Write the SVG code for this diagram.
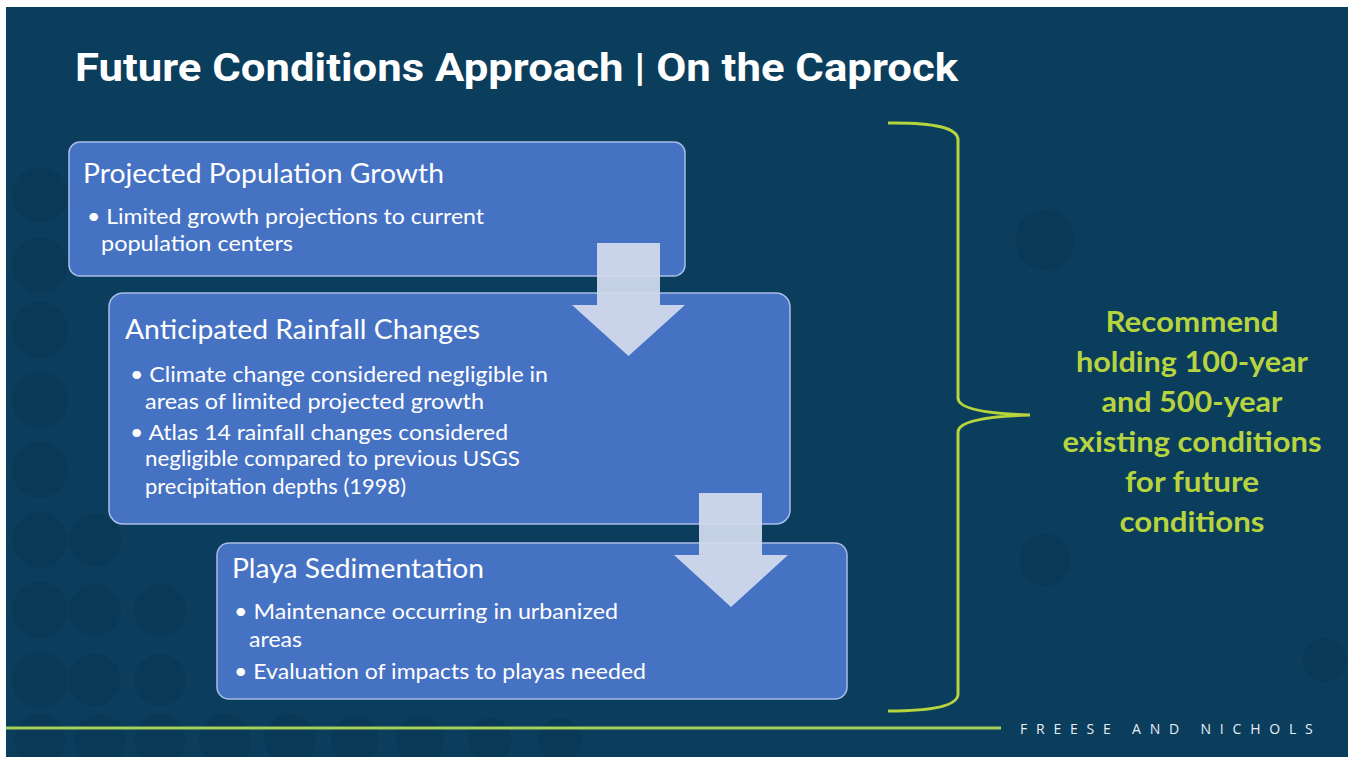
<svg xmlns="http://www.w3.org/2000/svg" width="1351" height="757" viewBox="0 0 1351 757">
<defs>
<style>
.box{fill:#4672c4;stroke:#a9bde6;stroke-width:1.5}
.h{font-family:Lato,"Open Sans",sans-serif;font-size:27px;fill:#ffffff}
.b{font-family:Lato,"Open Sans",sans-serif;font-size:22px;fill:#ffffff}
.g{font-family:Lato,"Open Sans",sans-serif;font-size:29px;font-weight:bold;fill:#b6d43e;text-anchor:middle}
.arr{fill:#d3dbee;opacity:0.93}
.dot{fill:#0a3350;opacity:0.35}
</style>
</defs>
<rect x="0" y="0" width="1351" height="757" fill="#ffffff"/>
<rect x="6" y="7" width="1342" height="750" fill="#0b3d5d"/>
<g id="bg-dots">
<circle class="dot" cx="40" cy="195" r="28"/>
<circle class="dot" cx="40" cy="265" r="28"/>
<circle class="dot" cx="40" cy="330" r="28"/>
<circle class="dot" cx="40" cy="400" r="28"/>
<circle class="dot" cx="40" cy="470" r="28"/>
<circle class="dot" cx="40" cy="540" r="28"/>
<circle class="dot" cx="40" cy="610" r="28"/>
<circle class="dot" cx="40" cy="680" r="28"/>
<circle class="dot" cx="95" cy="540" r="26"/>
<circle class="dot" cx="95" cy="610" r="26"/>
<circle class="dot" cx="95" cy="680" r="26"/>
<circle class="dot" cx="160" cy="610" r="26"/>
<circle class="dot" cx="160" cy="680" r="26"/>
<circle class="dot" cx="40" cy="740" r="26"/>
<circle class="dot" cx="100" cy="740" r="26"/>
<circle class="dot" cx="160" cy="740" r="26"/>
<circle class="dot" cx="225" cy="740" r="26"/>
<circle class="dot" cx="290" cy="740" r="26"/>
<circle class="dot" cx="355" cy="740" r="24"/>
<circle class="dot" cx="420" cy="740" r="24"/>
<circle class="dot" cx="490" cy="740" r="22"/>
<circle class="dot" cx="560" cy="740" r="22"/>
<circle class="dot" cx="1045" cy="240" r="30"/>
<circle class="dot" cx="1045" cy="560" r="26"/>
<circle class="dot" cx="1325" cy="660" r="22"/>
</g>
<text x="75" y="81" font-family="Roboto,'Liberation Sans',sans-serif" font-size="38" font-weight="bold" fill="#ffffff" textLength="883" lengthAdjust="spacingAndGlyphs">Future Conditions Approach | On the Caprock</text>
<g id="node-population">
<rect class="box" x="69" y="142" width="616" height="134" rx="11"/>
<text class="h" x="83" y="183" textLength="361" lengthAdjust="spacingAndGlyphs">Projected Population Growth</text>
<text class="b" x="87" y="224" textLength="397" lengthAdjust="spacingAndGlyphs">• Limited growth projections to current</text>
<text class="b" x="101" y="251" textLength="192" lengthAdjust="spacingAndGlyphs">population centers</text>
</g>
<g id="node-rainfall">
<rect class="box" x="109" y="293" width="681" height="231" rx="14"/>
<text class="h" x="125" y="339" textLength="355" lengthAdjust="spacingAndGlyphs">Anticipated Rainfall Changes</text>
<text class="b" x="130" y="382" textLength="418" lengthAdjust="spacingAndGlyphs">• Climate change considered negligible in</text>
<text class="b" x="145" y="409" textLength="339" lengthAdjust="spacingAndGlyphs">areas of limited projected growth</text>
<text class="b" x="130" y="440" textLength="378" lengthAdjust="spacingAndGlyphs">• Atlas 14 rainfall changes considered</text>
<text class="b" x="145" y="466" textLength="375" lengthAdjust="spacingAndGlyphs">negligible compared to previous USGS</text>
<text class="b" x="145" y="494" textLength="261" lengthAdjust="spacingAndGlyphs">precipitation depths (1998)</text>
</g>
<g id="node-playa">
<rect class="box" x="217" y="543" width="630" height="156" rx="12"/>
<text class="h" x="232" y="578" textLength="252" lengthAdjust="spacingAndGlyphs">Playa Sedimentation</text>
<text class="b" x="234" y="619" textLength="384" lengthAdjust="spacingAndGlyphs">• Maintenance occurring in urbanized</text>
<text class="b" x="249" y="647" textLength="53" lengthAdjust="spacingAndGlyphs">areas</text>
<text class="b" x="234" y="679" textLength="412" lengthAdjust="spacingAndGlyphs">• Evaluation of impacts to playas needed</text>
</g>
<g id="connectors">
<polygon class="arr" points="597,243 660,243 660,305 685,305 628.5,356 572,305 597,305"/>
<polygon class="arr" points="699,493 762,493 762,555 788,555 731,607 674,555 699,555"/>
</g>
<g id="brace">
<path d="M888,123 Q958,122 958,140 L958,398 Q958,413 1030,415 Q958,417 958,432 L958,694 Q958,711 888,711" fill="none" stroke="#b6d43e" stroke-width="3"/>
</g>
<g id="node-recommend">
<text class="g" x="1192" y="332" textLength="173" lengthAdjust="spacingAndGlyphs">Recommend</text>
<text class="g" x="1192" y="372" textLength="232" lengthAdjust="spacingAndGlyphs">holding 100-year</text>
<text class="g" x="1192" y="412" textLength="181" lengthAdjust="spacingAndGlyphs">and 500-year</text>
<text class="g" x="1192" y="452" textLength="259" lengthAdjust="spacingAndGlyphs">existing conditions</text>
<text class="g" x="1192" y="492" textLength="134" lengthAdjust="spacingAndGlyphs">for future</text>
<text class="g" x="1192" y="532" textLength="145" lengthAdjust="spacingAndGlyphs">conditions</text>
</g>
<line x1="6" y1="728" x2="1001" y2="728" stroke="#a5d05a" stroke-width="3"/>
<text x="1020" y="734" font-family="'Open Sans',Lato,sans-serif" font-size="14" fill="#e8eef5" letter-spacing="8.8">FREESE AND NICHOLS</text>
</svg>
